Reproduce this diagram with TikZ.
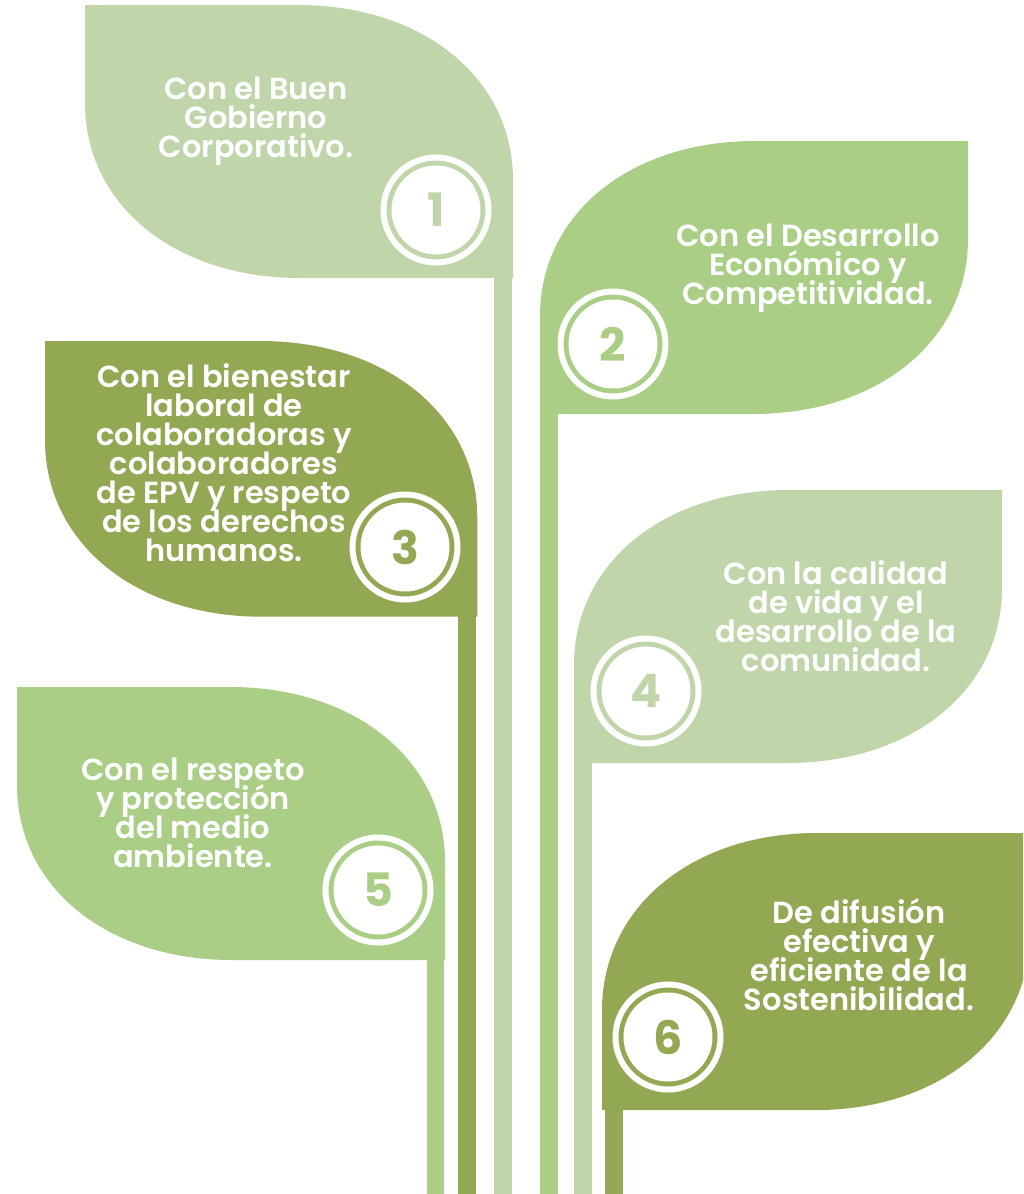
\documentclass[tikz,border=0pt]{standalone}
\usepackage{fontspec}
\usepackage{tikz}
\usetikzlibrary{positioning,calc}

\newfontfamily\leaffont{Poppins SemiBold}
\newfontfamily\numfont{Poppins Bold}
\newcommand\leaftextfont{\leaffont\fontsize{30.5}{29}\selectfont
  \setlength{\lineskiplimit}{-30pt}}

\definecolor{leaflight}{HTML}{C0D6AA}
\definecolor{leafmid}{HTML}{AACE85}
\definecolor{leafdark}{HTML}{93A853}

\begin{document}
\begin{tikzpicture}[
  x=1pt, y=-1pt,
  leaftext/.style={align=center, text=white, inner sep=0pt,
    font=\leaftextfont},
  badge/.style={circle, fill=white, text=#1, minimum size=89pt, inner sep=0pt,
    font=\numfont\fontsize{46}{46}\selectfont},
  ring/.style={draw=white, line width=6pt},
  pics/leafL/.style={code={
    \fill[#1] (0,0) -- (213,0)
      .. controls (338,0) and (428,73) .. (428,175)
      -- (428,273) -- (215,273)
      .. controls (90,273) and (0,200) .. (0,98) -- cycle;}},
  pics/leafR/.style={code={
    \fill[#1] (215,0) -- (428,0) -- (428,98)
      .. controls (428,200) and (338,273) .. (213,273)
      -- (0,273) -- (0,175)
      .. controls (0,73) and (90,0) .. (215,0) -- cycle;}}
]
\clip (0,0) rectangle (1023,1194);

% stems
\fill[leaflight] (494,270) rectangle (512,1194);
\fill[leafmid]   (540,405) rectangle (558,1194);
\fill[leafdark]  (458,610) rectangle (476,1194);
\fill[leaflight] (574,755) rectangle (592,1194);
\fill[leafmid]   (427,950) rectangle (444,1194);
\fill[leafdark]  (605,1100) rectangle (623,1194);

% leaves
\pic at (85,5)    {leafL=leaflight};
\pic at (540,141) {leafR=leafmid};
\pic[xscale=1.01, yscale=1.01] at (45,341) {leafL=leafdark};
\pic at (574,490) {leafR=leaflight};
\pic at (17,687)  {leafL=leafmid};
\pic[yscale=1.015] at (602,833) {leafR=leafdark};

% texts
\node[leaftext] (t1) at (256,121) {Con el Buen\\Gobierno\\Corporativo.};
\node[leaftext] (t2) at (808,268) {Con el Desarrollo\\Económico y\\Competitividad.};
\node[leaftext] (t3) at (224,463) {Con el bienestar\\laboral de\\colaboradoras y\\
  colaboradores\\de EPV y respeto\\de los derechos\\humanos.};
\node[leaftext] (t4) at (836,616) {Con la calidad\\de vida y el\\desarrollo de la\\comunidad.};
\node[leaftext] (t5) at (193,813) {Con el respeto\\y protección\\del medio\\ambiente.};
\node[leaftext] (t6) at (859,955) {De difusión\\efectiva y\\eficiente de la\\Sostenibilidad.};

% numbered badges
\node[badge=leaflight] (b1) at (436,210)  {1};
\node[badge=leafmid]   (b2) at (613,344)  {2};
\node[badge=leafdark]  (b3) at (405,547)  {3};
\node[badge=leaflight] (b4) at (646,691)  {4};
\node[badge=leafmid]   (b5) at (378,890)  {5};
\node[badge=leafdark]  (b6) at (668,1037) {6};
\draw[ring] (b1.center) circle[radius=52.5pt];
\draw[ring] (b2.center) circle[radius=52.5pt];
\draw[ring] (b3.center) circle[radius=52.5pt];
\draw[ring] (b4.center) circle[radius=52.5pt];
\draw[ring] (b5.center) circle[radius=52.5pt];
\draw[ring] (b6.center) circle[radius=52.5pt];
\end{tikzpicture}
\end{document}
